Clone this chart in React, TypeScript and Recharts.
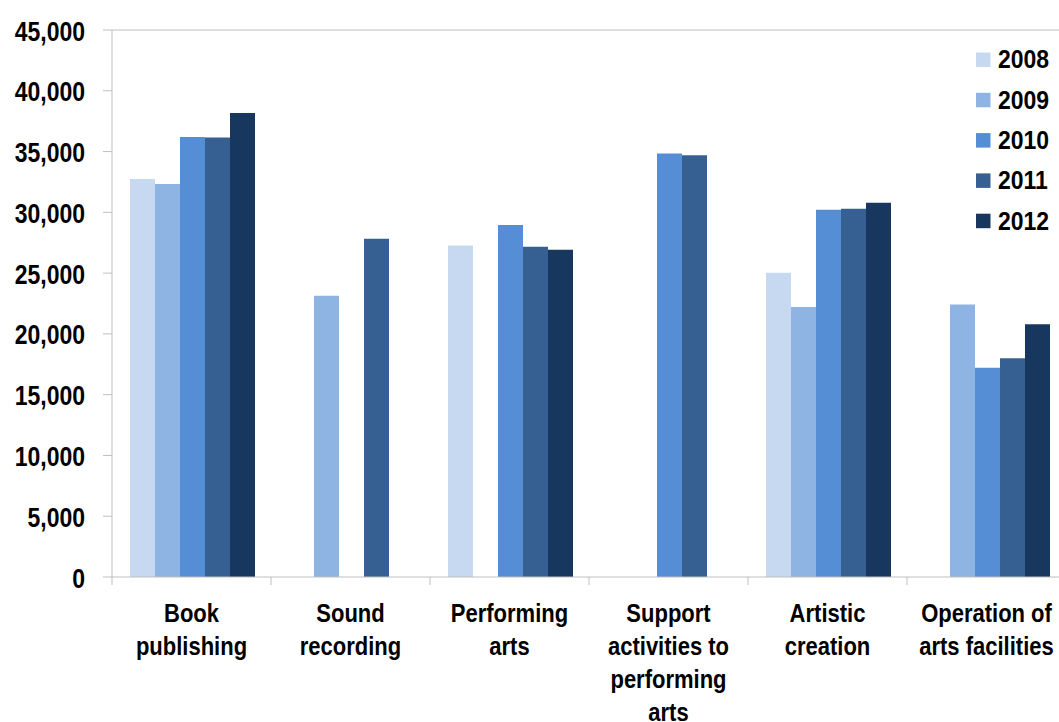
import React from 'react';
import { BarChart, Bar, XAxis, YAxis, Legend, ReferenceLine } from 'recharts';

const categories = [
  'Book publishing',
  'Sound recording',
  'Performing arts',
  'Support activities to performing arts',
  'Artistic creation',
  'Operation of arts facilities',
];
// how each category label is broken into lines
const categoryLines = [
  ['Book', 'publishing'],
  ['Sound', 'recording'],
  ['Performing', 'arts'],
  ['Support', 'activities to', 'performing', 'arts'],
  ['Artistic', 'creation'],
  ['Operation of', 'arts facilities'],
];

const years = ['2008', '2009', '2010', '2011', '2012'];
const colors = ['#C6D9F1', '#8EB4E3', '#558ED5', '#376092', '#17375E'];

const v2008 = [32740, null, 27270, null, 25020, null];
const v2009 = [32330, 23130, null, null, 22220, 22410];
const v2010 = [36200, null, 28950, 34850, 30220, 17220];
const v2011 = [36150, 27830, 27170, 34700, 30300, 17990];
const v2012 = [38180, null, 26920, null, 30790, 20790];

const yTicks = [0, 5000, 10000, 15000, 20000, 25000, 30000, 35000, 40000, 45000];

const series = [v2008, v2009, v2010, v2011, v2012];
const data = categories.map((c, i) => {
  const row: any = { category: c };
  years.forEach((y, k) => {
    row['y' + y] = series[k][i];
  });
  return row;
});

const FONT = '"Liberation Sans", Arial, sans-serif';
const GRAY = '#bfbfbf';

const YTick = ({ x, y, payload }: any) => (
  <text
    transform={`translate(${x - 16},${y}) scale(1,1.2)`}
    y={8.75}
    textAnchor="end"
    fontSize={23}
    fontWeight="bold"
    fontFamily={FONT}
    fill="#000"
  >
    {Number(payload.value).toLocaleString('en-US')}
  </text>
);

// category label plus tick marks on the category boundaries
const XTick = ({ x, y, payload, index }: any) => {
  const half = payload.offset || 0;
  const lines = categoryLines[index] || [];
  const last = index === categories.length - 1;
  return (
    <g>
      <line x1={x - half} y1={y} x2={x - half} y2={y + 8} stroke={GRAY} />
      {last && <line x1={x + half} y1={y} x2={x + half} y2={y + 8} stroke={GRAY} />}
      <g transform={`translate(${x},${y + 45})`}>
        {lines.map((l, i) => (
          <text
            key={i}
            transform={`translate(0,${i * 33}) scale(1,1.13)`}
            textAnchor="middle"
            fontSize={22}
            fontWeight="bold"
            fontFamily={FONT}
            fill="#000"
          >
            {l}
          </text>
        ))}
      </g>
    </g>
  );
};

const LegendContent = ({ payload }: any) => (
  <svg width={90} height={210}>
    {(payload || []).map((p: any, i: number) => (
      <g key={p.value}>
        <rect x={0} y={12.5 + i * 40.3} width={14.5} height={14.5} fill={p.color} />
        <text
          transform={`translate(22,${28.3 + i * 40.3}) scale(1,1.12)`}
          fontSize={23}
          fontWeight="bold"
          fontFamily={FONT}
          fill="#000"
        >
          {p.value}
        </text>
      </g>
    ))}
  </svg>
);

export default function App() {
  return (
    <div style={{ width: 1059, height: 722, overflow: 'hidden', position: 'relative', background: '#fff' }}>
      <style>{'body{margin:0}'}</style>
      <BarChart
        width={1070}
        height={722}
        data={data}
        margin={{ top: 30, right: 4, bottom: 5, left: 0 }}
        barCategoryGap={18}
        barGap={0}
      >
        <XAxis
          dataKey="category"
          interval={0}
          height={140}
          tickLine={false}
          tickSize={0}
          tickMargin={0}
          axisLine={{ stroke: GRAY }}
          tick={<XTick />}
        />
        <YAxis
          width={112}
          domain={[0, 45000]}
          ticks={yTicks}
          interval={0}
          tickSize={9}
          axisLine={{ stroke: GRAY }}
          tickLine={{ stroke: GRAY }}
          tick={<YTick />}
        />
        <ReferenceLine y={45000} stroke={GRAY} />
        <Legend
          layout="vertical"
          align="center"
          verticalAlign="middle"
          wrapperStyle={{ top: 40, left: 976, width: 90 }}
          content={<LegendContent />}
        />
        {years.map((y, k) => (
          <Bar key={y} dataKey={'y' + y} name={y} fill={colors[k]} isAnimationActive={false} />
        ))}
      </BarChart>
    </div>
  );
}
